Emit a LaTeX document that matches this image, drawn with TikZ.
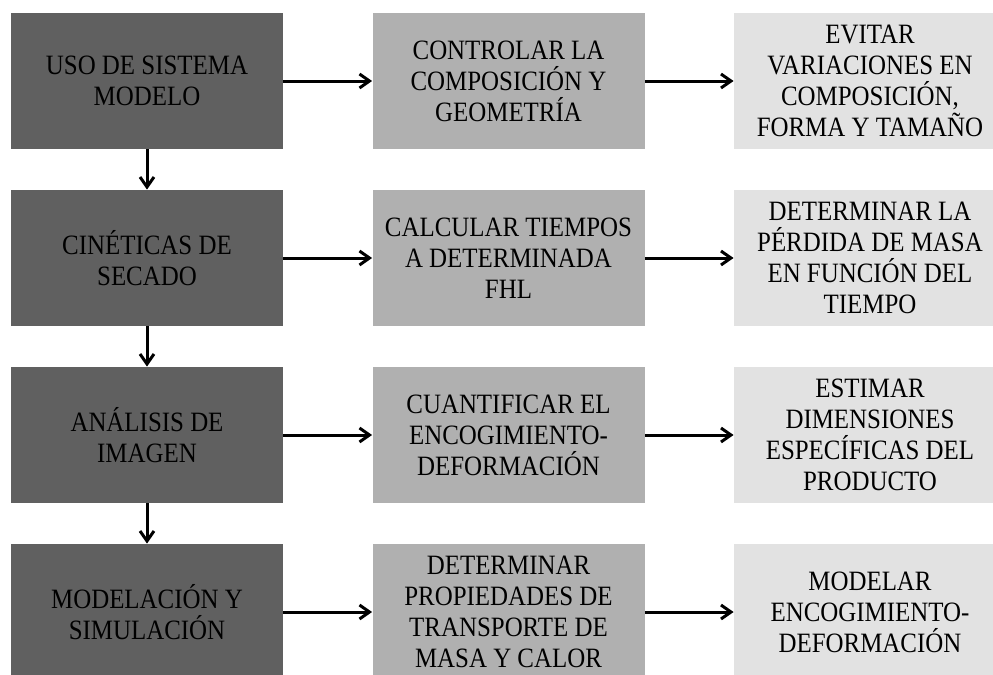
\documentclass[tikz,border=0pt]{standalone}
\usepackage{fontspec}
\setmainfont{Liberation Serif}[FakeStretch=0.89]
\usetikzlibrary{positioning}
\usetikzlibrary{arrows.meta}
\definecolor{darkbox}{HTML}{606060}
\definecolor{midbox}{HTML}{B0B0B0}
\definecolor{lightbox}{HTML}{E2E2E2}

\begin{document}
\begin{tikzpicture}[x=0.5pt,y=-0.5pt,
  box/.style={minimum width=136pt, minimum height=68pt, inner sep=0pt, align=center,
    font=\fontsize{14}{15.5}\selectfont},
  stepone/.style={box, fill=darkbox},
  steptwo/.style={box, fill=midbox},
  stepthree/.style={box, fill=lightbox},
  flow/.style={line width=1.5pt, -{Straight Barb[length=5pt,width=7pt,line width=1.5pt]}}]

\useasboundingbox (0,0) rectangle (993,675);
\clip (0,0) rectangle (993,675);

% first column
\node[stepone] (uso) at (147,81) {USO DE SISTEMA\\MODELO};
\node[stepone] (cin) at (147,258) {CINÉTICAS DE\\SECADO};
\node[stepone] (ana) at (147,435) {ANÁLISIS DE\\IMAGEN};
\node[stepone] (mod) at (147,612) {MODELACIÓN Y\\SIMULACIÓN};

% second column
\node[steptwo] (con) at (508.5,81) {CONTROLAR LA\\COMPOSICIÓN Y\\GEOMETRÍA};
\node[steptwo] (cal) at (508.5,258) {CALCULAR TIEMPOS\\A DETERMINADA\\FHL};
\node[steptwo] (cua) at (508.5,435) {CUANTIFICAR EL\\ENCOGIMIENTO-\\DEFORMACIÓN};
\node[steptwo] (det) at (508.5,612) {DETERMINAR\\PROPIEDADES DE\\TRANSPORTE DE\\MASA Y CALOR};

% third column
\node[stepthree] (evi) at (870,81) {EVITAR\\VARIACIONES EN\\COMPOSICIÓN,\\FORMA Y TAMAÑO};
\node[stepthree] (per) at (870,258) {DETERMINAR LA\\PÉRDIDA DE MASA\\EN FUNCIÓN DEL\\TIEMPO};
\node[stepthree] (est) at (870,435) {ESTIMAR\\DIMENSIONES\\ESPECÍFICAS DEL\\PRODUCTO};
\node[stepthree] (mol) at (870,612) {MODELAR\\ENCOGIMIENTO-\\DEFORMACIÓN};

% arrows
\draw[flow] (uso) -- (cin);
\draw[flow] (cin) -- (ana);
\draw[flow] (ana) -- (mod);

\draw[flow] (uso) -- (con);
\draw[flow] (cin) -- (cal);
\draw[flow] (ana) -- (cua);
\draw[flow] (mod) -- (det);

\draw[flow] (con) -- (evi);
\draw[flow] (cal) -- (per);
\draw[flow] (cua) -- (est);
\draw[flow] (det) -- (mol);

\end{tikzpicture}
\end{document}
